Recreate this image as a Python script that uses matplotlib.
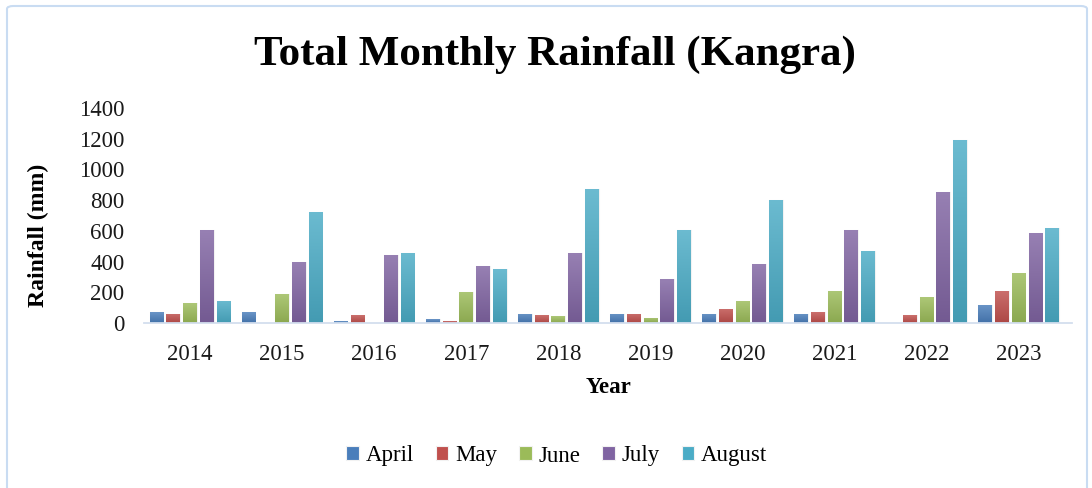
import numpy as np
import matplotlib
matplotlib.use("Agg")
import matplotlib.pyplot as plt
from matplotlib.colors import to_rgb
from matplotlib.patches import FancyBboxPatch

years = ["2014", "2015", "2016", "2017", "2018", "2019", "2020", "2021", "2022", "2023"]
april = [69, 69, 13, 26, 59, 59, 59, 59, 0, 119]
may = [59, 0, 52, 10, 52, 59, 93, 69, 52, 210]
june = [128, 186, 0, 202, 43, 35, 143, 210, 169, 327]
july = [605, 395, 445, 371, 453, 286, 384, 605, 855, 586]
august = [145, 723, 456, 351, 872, 605, 803, 469, 1189, 618]
months = ["April", "May", "June", "July", "August"]
series = [april, may, june, july, august]
colors = ["#4a7ebb", "#c0504d", "#9bbb59", "#8064a2", "#4bacc6"]

plt.rcParams['font.family'] = ['Liberation Serif', 'DejaVu Serif']

fig = plt.figure(figsize=(10.92, 4.88), dpi=100)
ax = fig.add_axes([144/1092, 1-323/488, 928/1092, 215/488])

x = np.arange(len(years))
pitch = 0.182
width = 0.148
handles = []
for i, (vals, c, name) in enumerate(zip(series, colors, months)):
    off = (i - 2) * pitch
    bars = ax.bar(x + off, vals, width=width, color=c, edgecolor="#f2f2f2",
                  linewidth=0.8, label=name, zorder=2)
    handles.append(bars)
    rgb = np.array(to_rgb(c))
    light = rgb + (1 - rgb) * 0.18
    dark = rgb * 0.9
    grad = np.linspace(0, 1, 64)[:, None, None]
    img = dark[None, None, :] * (1 - grad) + light[None, None, :] * grad
    for b in bars:
        h = b.get_height()
        if h <= 0:
            continue
        bx = b.get_x()
        bw = b.get_width()
        im = ax.imshow(img, extent=(bx, bx + bw, 0, h), origin="lower",
                       aspect="auto", zorder=2.5, interpolation="bilinear")
        im.set_clip_path(b)

ax.set_xlim(-0.5, len(years) - 0.5 + 0.08)
ax.set_ylim(0, 1400)
ax.set_yticks(range(0, 1401, 200))
ax.set_xticks(x)
ax.set_xticklabels(years)
ax.tick_params(axis="both", length=0, labelsize=16.5, colors="#1a1a1a")
ax.tick_params(axis="x", pad=15)
ax.tick_params(axis="y", pad=14)
for s in ["top", "right", "left"]:
    ax.spines[s].set_visible(False)
ax.spines["bottom"].set_color("#d3deee")
ax.spines["bottom"].set_linewidth(1.3)

ax.set_ylabel("Rainfall (mm)", fontsize=17, fontweight="bold")
ax.yaxis.set_label_coords((49 - 144) / 928, (323 - 235) / 215)
ax.set_xlabel("Year", fontsize=16.5, fontweight="bold", labelpad=9)

fig.text(0.508, 1-55/488, "Total Monthly Rainfall (Kangra)", ha="center", va="center",
         fontsize=31, fontweight="bold")

leg = fig.legend(handles=handles, labels=months, loc="center", bbox_to_anchor=(0.510, 1-456/488),
                 ncol=5, frameon=False, fontsize=16.5, handlelength=0.55, handleheight=0.55,
                 handletextpad=0.3, columnspacing=0.95)

frame = FancyBboxPatch((7/1092, -0.05), 1080/1092, (488-6)/488 + 0.05,
                       boxstyle="round,pad=0,rounding_size=0.006",
                       transform=fig.transFigure, fill=False, edgecolor="#c9dcf2", linewidth=1.5)
fig.patches.append(frame)

fig.savefig("out.png", dpi=100)
